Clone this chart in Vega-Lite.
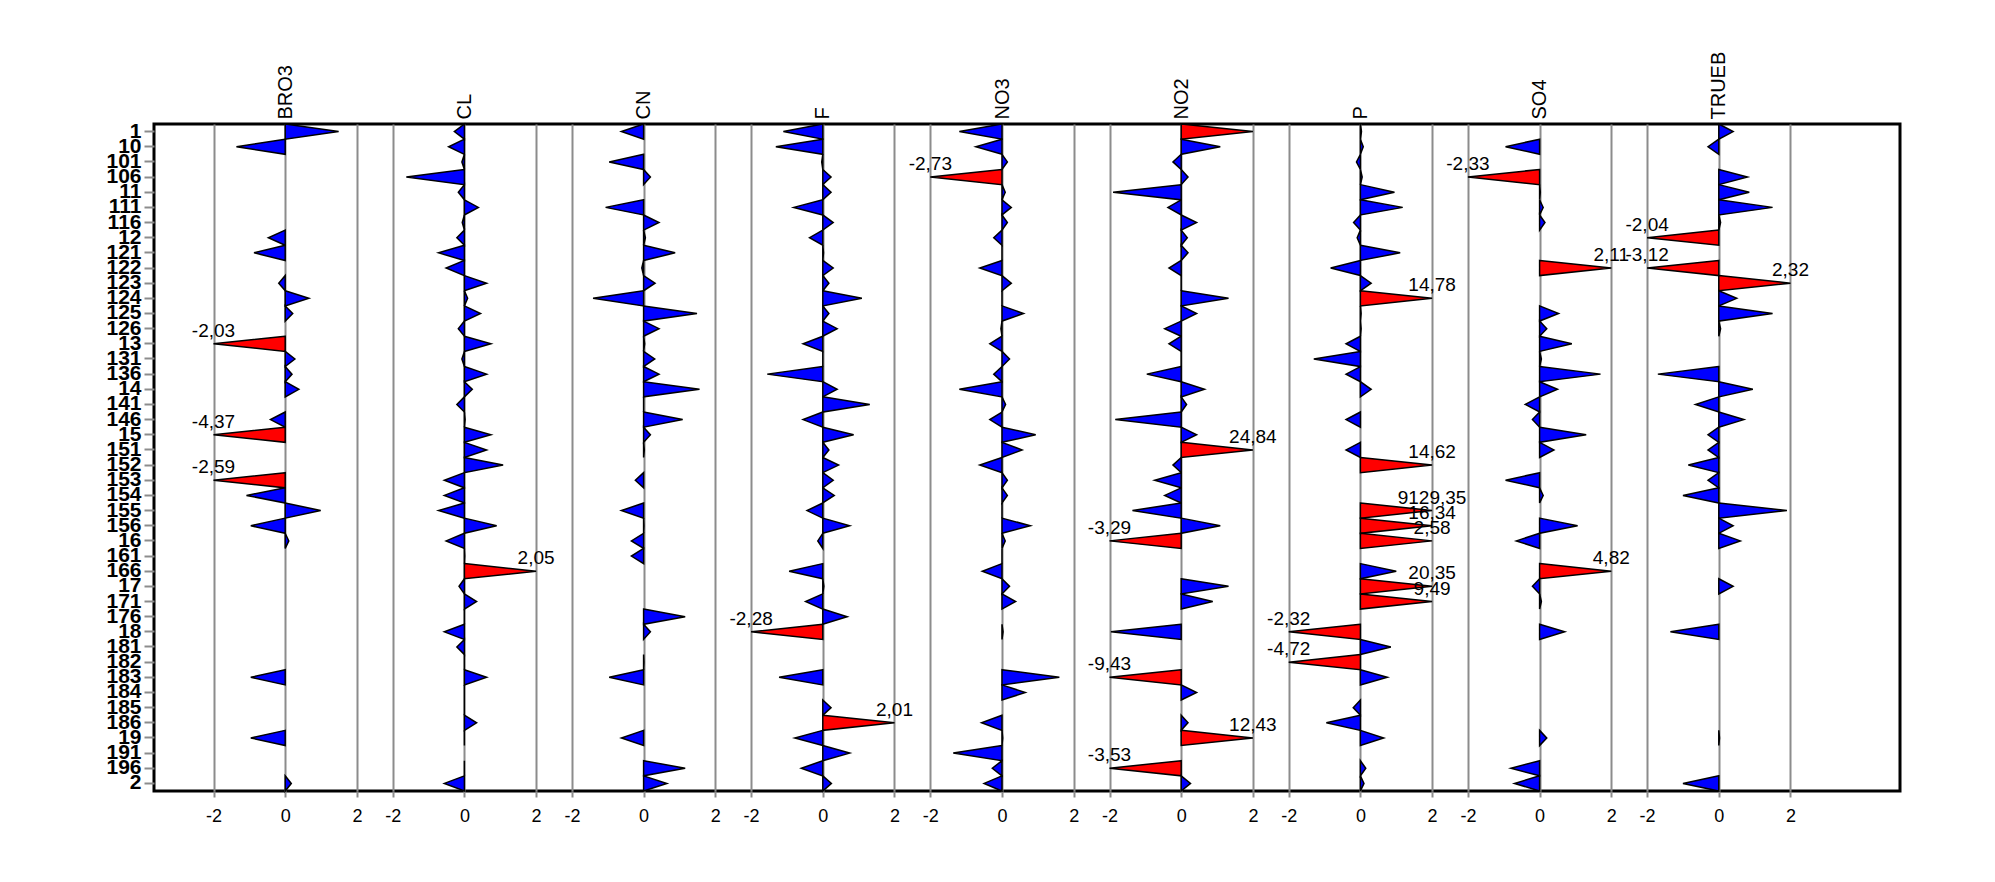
{
 "$schema": "https://vega.github.io/schema/vega-lite/v6.json",
 "background": "white",
 "padding": {"left": 104, "top": 49, "right": 0, "bottom": 0},
 "bounds": "flush",
 "spacing": 0,
 "config": {"font": "Liberation Sans", "locale": {"number": {"decimal": ",", "thousands": ".", "grouping": [3], "currency": ["", ""], "minus": "-"}}},
 "datasets": {"d": [
  {"p":"BRO3","s":"1","v":1.49},{"p":"BRO3","s":"10","v":-1.36},{"p":"BRO3","s":"12","v":-0.47},{"p":"BRO3","s":"121","v":-0.87},{"p":"BRO3","s":"123","v":-0.18},{"p":"BRO3","s":"124","v":0.66},{"p":"BRO3","s":"125","v":0.21},{"p":"BRO3","s":"13","v":-2.03},{"p":"BRO3","s":"131","v":0.27},{"p":"BRO3","s":"136","v":0.19},{"p":"BRO3","s":"14","v":0.38},{"p":"BRO3","s":"146","v":-0.41},{"p":"BRO3","s":"15","v":-4.37},{"p":"BRO3","s":"153","v":-2.59},{"p":"BRO3","s":"154","v":-1.08},{"p":"BRO3","s":"155","v":0.99},{"p":"BRO3","s":"156","v":-0.96},{"p":"BRO3","s":"16","v":0.10},{"p":"BRO3","s":"183","v":-0.96},{"p":"BRO3","s":"19","v":-0.96},{"p":"BRO3","s":"2","v":0.17},
  {"p":"CL","s":"1","v":-0.28},{"p":"CL","s":"10","v":-0.44},{"p":"CL","s":"101","v":-0.07},{"p":"CL","s":"106","v":-1.62},{"p":"CL","s":"11","v":-0.17},{"p":"CL","s":"111","v":0.39},{"p":"CL","s":"116","v":-0.06},{"p":"CL","s":"12","v":-0.21},{"p":"CL","s":"121","v":-0.72},{"p":"CL","s":"122","v":-0.51},{"p":"CL","s":"123","v":0.62},{"p":"CL","s":"124","v":0.09},{"p":"CL","s":"125","v":0.45},{"p":"CL","s":"126","v":-0.17},{"p":"CL","s":"13","v":0.74},{"p":"CL","s":"131","v":-0.07},{"p":"CL","s":"136","v":0.62},{"p":"CL","s":"14","v":0.22},{"p":"CL","s":"141","v":-0.21},{"p":"CL","s":"146","v":0.02},{"p":"CL","s":"15","v":0.74},{"p":"CL","s":"151","v":0.62},{"p":"CL","s":"152","v":1.08},{"p":"CL","s":"153","v":-0.56},{"p":"CL","s":"154","v":-0.56},{"p":"CL","s":"155","v":-0.72},{"p":"CL","s":"156","v":0.90},{"p":"CL","s":"16","v":-0.51},{"p":"CL","s":"161","v":0.01},{"p":"CL","s":"166","v":2.05},{"p":"CL","s":"17","v":-0.15},{"p":"CL","s":"171","v":0.34},{"p":"CL","s":"176","v":0},{"p":"CL","s":"18","v":-0.56},{"p":"CL","s":"181","v":-0.21},{"p":"CL","s":"182","v":0},{"p":"CL","s":"183","v":0.62},{"p":"CL","s":"184","v":0},{"p":"CL","s":"185","v":0},{"p":"CL","s":"186","v":0.34},{"p":"CL","s":"19","v":0},{"p":"CL","s":"196","v":0},{"p":"CL","s":"2","v":-0.56},
  {"p":"CN","s":"1","v":-0.62},{"p":"CN","s":"101","v":-0.96},{"p":"CN","s":"106","v":0.19},{"p":"CN","s":"111","v":-1.06},{"p":"CN","s":"116","v":0.43},{"p":"CN","s":"12","v":0.05},{"p":"CN","s":"121","v":0.88},{"p":"CN","s":"122","v":-0.05},{"p":"CN","s":"123","v":0.32},{"p":"CN","s":"124","v":-1.41},{"p":"CN","s":"125","v":1.49},{"p":"CN","s":"126","v":0.43},{"p":"CN","s":"13","v":0.03},{"p":"CN","s":"131","v":0.31},{"p":"CN","s":"136","v":0.43},{"p":"CN","s":"14","v":1.56},{"p":"CN","s":"141","v":0},{"p":"CN","s":"146","v":1.09},{"p":"CN","s":"15","v":0.19},{"p":"CN","s":"151","v":0.02},{"p":"CN","s":"153","v":-0.23},{"p":"CN","s":"155","v":-0.62},{"p":"CN","s":"156","v":0.01},{"p":"CN","s":"16","v":-0.34},{"p":"CN","s":"161","v":-0.34},{"p":"CN","s":"176","v":1.16},{"p":"CN","s":"18","v":0.19},{"p":"CN","s":"182","v":0.01},{"p":"CN","s":"183","v":-0.96},{"p":"CN","s":"19","v":-0.62},{"p":"CN","s":"196","v":1.16},{"p":"CN","s":"2","v":0.65},
  {"p":"F","s":"1","v":-1.10},{"p":"F","s":"10","v":-1.31},{"p":"F","s":"101","v":-0.03},{"p":"F","s":"106","v":0.23},{"p":"F","s":"11","v":0.23},{"p":"F","s":"111","v":-0.81},{"p":"F","s":"116","v":0.29},{"p":"F","s":"12","v":-0.37},{"p":"F","s":"121","v":0.02},{"p":"F","s":"122","v":0.29},{"p":"F","s":"123","v":0.17},{"p":"F","s":"124","v":1.09},{"p":"F","s":"125","v":0.17},{"p":"F","s":"126","v":0.40},{"p":"F","s":"13","v":-0.55},{"p":"F","s":"131","v":0},{"p":"F","s":"136","v":-1.55},{"p":"F","s":"14","v":0.40},{"p":"F","s":"141","v":1.31},{"p":"F","s":"146","v":-0.55},{"p":"F","s":"15","v":0.86},{"p":"F","s":"151","v":0.17},{"p":"F","s":"152","v":0.44},{"p":"F","s":"153","v":0.29},{"p":"F","s":"154","v":0.32},{"p":"F","s":"155","v":-0.44},{"p":"F","s":"156","v":0.75},{"p":"F","s":"16","v":-0.14},{"p":"F","s":"166","v":-0.94},{"p":"F","s":"17","v":0.03},{"p":"F","s":"171","v":-0.48},{"p":"F","s":"176","v":0.68},{"p":"F","s":"18","v":-2.28},{"p":"F","s":"183","v":-1.22},{"p":"F","s":"185","v":0.23},{"p":"F","s":"186","v":2.01},{"p":"F","s":"19","v":-0.78},{"p":"F","s":"191","v":0.75},{"p":"F","s":"196","v":-0.60},{"p":"F","s":"2","v":0.24},
  {"p":"NO3","s":"1","v":-1.19},{"p":"NO3","s":"10","v":-0.73},{"p":"NO3","s":"101","v":0.15},{"p":"NO3","s":"106","v":-2.73},{"p":"NO3","s":"11","v":0.09},{"p":"NO3","s":"111","v":0.26},{"p":"NO3","s":"116","v":0.15},{"p":"NO3","s":"12","v":-0.23},{"p":"NO3","s":"121","v":0},{"p":"NO3","s":"122","v":-0.62},{"p":"NO3","s":"123","v":0.26},{"p":"NO3","s":"124","v":0},{"p":"NO3","s":"125","v":0.60},{"p":"NO3","s":"126","v":-0.03},{"p":"NO3","s":"13","v":-0.34},{"p":"NO3","s":"131","v":0.21},{"p":"NO3","s":"136","v":-0.23},{"p":"NO3","s":"14","v":-1.19},{"p":"NO3","s":"141","v":0.10},{"p":"NO3","s":"146","v":-0.34},{"p":"NO3","s":"15","v":0.94},{"p":"NO3","s":"151","v":0.56},{"p":"NO3","s":"152","v":-0.62},{"p":"NO3","s":"153","v":0.15},{"p":"NO3","s":"154","v":0.15},{"p":"NO3","s":"155","v":0},{"p":"NO3","s":"156","v":0.79},{"p":"NO3","s":"16","v":0.09},{"p":"NO3","s":"161","v":0},{"p":"NO3","s":"166","v":-0.55},{"p":"NO3","s":"17","v":0.21},{"p":"NO3","s":"171","v":0.38},{"p":"NO3","s":"18","v":0.03},{"p":"NO3","s":"183","v":1.60},{"p":"NO3","s":"184","v":0.65},{"p":"NO3","s":"186","v":-0.57},{"p":"NO3","s":"19","v":0.02},{"p":"NO3","s":"191","v":-1.36},{"p":"NO3","s":"196","v":-0.27},{"p":"NO3","s":"2","v":-0.50},
  {"p":"NO2","s":"1","v":3.12},{"p":"NO2","s":"10","v":1.09},{"p":"NO2","s":"101","v":-0.23},{"p":"NO2","s":"106","v":0.19},{"p":"NO2","s":"11","v":-1.90},{"p":"NO2","s":"111","v":-0.37},{"p":"NO2","s":"116","v":0.43},{"p":"NO2","s":"12","v":0.17},{"p":"NO2","s":"121","v":0.19},{"p":"NO2","s":"122","v":-0.34},{"p":"NO2","s":"123","v":0},{"p":"NO2","s":"124","v":1.32},{"p":"NO2","s":"125","v":0.43},{"p":"NO2","s":"126","v":-0.46},{"p":"NO2","s":"13","v":-0.34},{"p":"NO2","s":"131","v":0},{"p":"NO2","s":"136","v":-0.96},{"p":"NO2","s":"14","v":0.65},{"p":"NO2","s":"141","v":0.15},{"p":"NO2","s":"146","v":-1.84},{"p":"NO2","s":"15","v":0.43},{"p":"NO2","s":"151","v":24.84},{"p":"NO2","s":"152","v":-0.23},{"p":"NO2","s":"153","v":-0.74},{"p":"NO2","s":"154","v":-0.46},{"p":"NO2","s":"155","v":-1.36},{"p":"NO2","s":"156","v":1.09},{"p":"NO2","s":"16","v":-3.29},{"p":"NO2","s":"17","v":1.32},{"p":"NO2","s":"171","v":0.88},{"p":"NO2","s":"18","v":-1.96},{"p":"NO2","s":"183","v":-9.43},{"p":"NO2","s":"184","v":0.43},{"p":"NO2","s":"186","v":0.19},{"p":"NO2","s":"19","v":12.43},{"p":"NO2","s":"196","v":-3.53},{"p":"NO2","s":"2","v":0.26},
  {"p":"P","s":"1","v":0.03},{"p":"P","s":"10","v":0.08},{"p":"P","s":"101","v":-0.11},{"p":"P","s":"106","v":0.05},{"p":"P","s":"11","v":0.95},{"p":"P","s":"111","v":1.18},{"p":"P","s":"116","v":-0.19},{"p":"P","s":"12","v":-0.09},{"p":"P","s":"121","v":1.11},{"p":"P","s":"122","v":-0.83},{"p":"P","s":"123","v":0.3},{"p":"P","s":"124","v":14.78},{"p":"P","s":"125","v":0.02},{"p":"P","s":"126","v":0.02},{"p":"P","s":"13","v":-0.4},{"p":"P","s":"131","v":-1.3},{"p":"P","s":"136","v":-0.4},{"p":"P","s":"14","v":0.3},{"p":"P","s":"146","v":-0.4},{"p":"P","s":"151","v":-0.4},{"p":"P","s":"152","v":14.62},{"p":"P","s":"155","v":9129.35},{"p":"P","s":"156","v":16.34},{"p":"P","s":"16","v":2.58},{"p":"P","s":"166","v":1.0},{"p":"P","s":"17","v":20.35},{"p":"P","s":"171","v":9.49},{"p":"P","s":"18","v":-2.32},{"p":"P","s":"181","v":0.85},{"p":"P","s":"182","v":-4.72},{"p":"P","s":"183","v":0.75},{"p":"P","s":"185","v":-0.2},{"p":"P","s":"186","v":-0.95},{"p":"P","s":"19","v":0.65},{"p":"P","s":"196","v":0.15},{"p":"P","s":"2","v":0.1},
  {"p":"SO4","s":"10","v":-0.95},{"p":"SO4","s":"106","v":-2.33},{"p":"SO4","s":"11","v":0.02},{"p":"SO4","s":"111","v":0.1},{"p":"SO4","s":"116","v":0.15},{"p":"SO4","s":"122","v":2.11},{"p":"SO4","s":"125","v":0.53},{"p":"SO4","s":"126","v":0.2},{"p":"SO4","s":"13","v":0.9},{"p":"SO4","s":"131","v":0.05},{"p":"SO4","s":"136","v":1.7},{"p":"SO4","s":"14","v":0.5},{"p":"SO4","s":"141","v":-0.4},{"p":"SO4","s":"146","v":-0.2},{"p":"SO4","s":"15","v":1.3},{"p":"SO4","s":"151","v":0.4},{"p":"SO4","s":"153","v":-0.95},{"p":"SO4","s":"154","v":0.1},{"p":"SO4","s":"156","v":1.06},{"p":"SO4","s":"16","v":-0.65},{"p":"SO4","s":"166","v":4.82},{"p":"SO4","s":"17","v":-0.2},{"p":"SO4","s":"171","v":0.05},{"p":"SO4","s":"18","v":0.7},{"p":"SO4","s":"19","v":0.2},{"p":"SO4","s":"196","v":-0.8},{"p":"SO4","s":"2","v":-0.7},
  {"p":"TRUEB","s":"1","v":0.4},{"p":"TRUEB","s":"10","v":-0.3},{"p":"TRUEB","s":"106","v":0.8},{"p":"TRUEB","s":"11","v":0.85},{"p":"TRUEB","s":"111","v":1.5},{"p":"TRUEB","s":"116","v":0.05},{"p":"TRUEB","s":"12","v":-2.04},{"p":"TRUEB","s":"122","v":-3.12},{"p":"TRUEB","s":"123","v":2.32},{"p":"TRUEB","s":"124","v":0.5},{"p":"TRUEB","s":"125","v":1.5},{"p":"TRUEB","s":"126","v":0.05},{"p":"TRUEB","s":"136","v":-1.7},{"p":"TRUEB","s":"14","v":0.95},{"p":"TRUEB","s":"141","v":-0.65},{"p":"TRUEB","s":"146","v":0.7},{"p":"TRUEB","s":"15","v":-0.3},{"p":"TRUEB","s":"151","v":-0.3},{"p":"TRUEB","s":"152","v":-0.85},{"p":"TRUEB","s":"153","v":-0.3},{"p":"TRUEB","s":"154","v":-1.0},{"p":"TRUEB","s":"155","v":1.9},{"p":"TRUEB","s":"156","v":0.4},{"p":"TRUEB","s":"16","v":0.6},{"p":"TRUEB","s":"17","v":0.4},{"p":"TRUEB","s":"18","v":-1.35},{"p":"TRUEB","s":"19","v":0.02},{"p":"TRUEB","s":"2","v":-1.0}
 ]},
 "data": {"name": "d"},
 "resolve": {"scale": {"x": "independent", "y": "independent"}},
 "hconcat": [
  {"width": 223, "height": 667, "view": {"stroke": "black", "strokeWidth": 3, "strokeDash": [223, 667, 890]},
   "transform": [{"filter": "datum.p == 'BRO3'"}],
   "layer": [
    {"transform": [{"stack": "v", "groupby": ["p", "s"], "as": ["a0", "a1"]}, {"stack": "v", "groupby": ["p", "s"], "as": ["b0", "b1"]}, {"fold": ["a0", "a1", "b0"], "as": ["k", "xv"]}],
     "mark": {"type": "area", "orient": "horizontal", "stroke": "black", "strokeWidth": 1.5, "strokeJoin": "miter"},
     "encoding": {
      "y": {"field": "s", "type": "nominal", "scale": {"domain": ["1","10","101","106","11","111","116","12","121","122","123","124","125","126","13","131","136","14","141","146","15","151","152","153","154","155","156","16","161","166","17","171","176","18","181","182","183","184","185","186","19","191","196","2"], "paddingInner": 0, "paddingOuter": 0},
        "axis": {"orient": "left", "domain": false, "grid": false, "tickColor": "#8c8c8c", "tickWidth": 2, "tickSize": 10, "labelFontSize": 21, "labelFontWeight": "bold", "labelColor": "black", "labelPadding": 3, "title": null, "labelOverlap": false, "labelBound": false}},
      "yOffset": {"field": "k", "type": "nominal", "scale": {"type": "point", "domain": ["a0", "a1", "b0"], "range": [0, 15.159], "padding": 0}},
      "x": {"field": "xv", "type": "quantitative", "stack": null, "scale": {"domain": [-2, 2], "range": [59.5, 202.9], "clamp": true, "nice": false, "zero": false},
        "axis": {"orient": "bottom", "values": [-2, 0, 2], "grid": true, "gridColor": "#8c8c8c", "gridWidth": 2, "domain": false, "tickColor": "#8c8c8c", "tickWidth": 2, "tickSize": 6, "labelFontSize": 18, "labelColor": "black", "labelPadding": 10, "title": null, "labelFlush": false, "labelOverlap": false}},
      "detail": {"field": "s", "type": "nominal"},
      "color": {"condition": {"test": "abs(datum.v) > 2", "value": "#ff0000"}, "value": "#0000ff"}
     }},
    {"transform": [{"filter": "abs(datum.v) > 2"}],
     "mark": {"type": "text", "baseline": "bottom", "align": "center", "dy": -3, "fontSize": 19, "color": "black"},
     "encoding": {
      "y": {"field": "s", "type": "nominal"},
      "x": {"field": "v", "type": "quantitative", "axis": {"orient": "top", "values": [0], "labelExpr": "'BRO3'", "labelAngle": -90, "labelAlign": "left", "labelBaseline": "middle", "ticks": false, "domain": false, "grid": false, "title": null, "labelFontSize": 20, "labelPadding": 5, "labelColor": "black"}},
      "text": {"field": "v", "type": "quantitative", "format": ".2f"}
     }}
   ],
   "resolve": {"axis": {"x": "independent"}}},
  {"width": 179, "height": 667, "view": {"stroke": "black", "strokeWidth": 3, "strokeDash": [179, 667]},
   "transform": [{"filter": "datum.p == 'CL'"}],
   "layer": [
    {"transform": [{"stack": "v", "groupby": ["p", "s"], "as": ["a0", "a1"]}, {"stack": "v", "groupby": ["p", "s"], "as": ["b0", "b1"]}, {"fold": ["a0", "a1", "b0"], "as": ["k", "xv"]}],
     "mark": {"type": "area", "orient": "horizontal", "stroke": "black", "strokeWidth": 1.5, "strokeJoin": "miter"},
     "encoding": {
      "y": {"field": "s", "type": "nominal", "scale": {"domain": ["1","10","101","106","11","111","116","12","121","122","123","124","125","126","13","131","136","14","141","146","15","151","152","153","154","155","156","16","161","166","17","171","176","18","181","182","183","184","185","186","19","191","196","2"], "paddingInner": 0, "paddingOuter": 0}, "axis": null},
      "yOffset": {"field": "k", "type": "nominal", "scale": {"type": "point", "domain": ["a0", "a1", "b0"], "range": [0, 15.159], "padding": 0}},
      "x": {"field": "xv", "type": "quantitative", "stack": null, "scale": {"domain": [-2, 2], "range": [15.72, 159.08], "clamp": true, "nice": false, "zero": false},
        "axis": {"orient": "bottom", "values": [-2, 0, 2], "grid": true, "gridColor": "#8c8c8c", "gridWidth": 2, "domain": false, "tickColor": "#8c8c8c", "tickWidth": 2, "tickSize": 6, "labelFontSize": 18, "labelColor": "black", "labelPadding": 10, "title": null, "labelFlush": false, "labelOverlap": false}},
      "detail": {"field": "s", "type": "nominal"},
      "color": {"condition": {"test": "abs(datum.v) > 2", "value": "#ff0000"}, "value": "#0000ff"}
     }},
    {"transform": [{"filter": "abs(datum.v) > 2"}],
     "mark": {"type": "text", "baseline": "bottom", "align": "center", "dy": -3, "fontSize": 19, "color": "black"},
     "encoding": {
      "y": {"field": "s", "type": "nominal"},
      "x": {"field": "v", "type": "quantitative", "axis": {"orient": "top", "values": [0], "labelExpr": "'CL'", "labelAngle": -90, "labelAlign": "left", "labelBaseline": "middle", "ticks": false, "domain": false, "grid": false, "title": null, "labelFontSize": 20, "labelPadding": 5, "labelColor": "black"}},
      "text": {"field": "v", "type": "quantitative", "format": ".2f"}
     }}
   ],
   "resolve": {"axis": {"x": "independent"}}},
  {"width": 179, "height": 667, "view": {"stroke": "black", "strokeWidth": 3, "strokeDash": [179, 667]},
   "transform": [{"filter": "datum.p == 'CN'"}],
   "layer": [
    {"transform": [{"stack": "v", "groupby": ["p", "s"], "as": ["a0", "a1"]}, {"stack": "v", "groupby": ["p", "s"], "as": ["b0", "b1"]}, {"fold": ["a0", "a1", "b0"], "as": ["k", "xv"]}],
     "mark": {"type": "area", "orient": "horizontal", "stroke": "black", "strokeWidth": 1.5, "strokeJoin": "miter"},
     "encoding": {
      "y": {"field": "s", "type": "nominal", "scale": {"domain": ["1","10","101","106","11","111","116","12","121","122","123","124","125","126","13","131","136","14","141","146","15","151","152","153","154","155","156","16","161","166","17","171","176","18","181","182","183","184","185","186","19","191","196","2"], "paddingInner": 0, "paddingOuter": 0}, "axis": null},
      "yOffset": {"field": "k", "type": "nominal", "scale": {"type": "point", "domain": ["a0", "a1", "b0"], "range": [0, 15.159], "padding": 0}},
      "x": {"field": "xv", "type": "quantitative", "stack": null, "scale": {"domain": [-2, 2], "range": [15.92, 159.28], "clamp": true, "nice": false, "zero": false},
        "axis": {"orient": "bottom", "values": [-2, 0, 2], "grid": true, "gridColor": "#8c8c8c", "gridWidth": 2, "domain": false, "tickColor": "#8c8c8c", "tickWidth": 2, "tickSize": 6, "labelFontSize": 18, "labelColor": "black", "labelPadding": 10, "title": null, "labelFlush": false, "labelOverlap": false}},
      "detail": {"field": "s", "type": "nominal"},
      "color": {"condition": {"test": "abs(datum.v) > 2", "value": "#ff0000"}, "value": "#0000ff"}
     }},
    {"transform": [{"filter": "abs(datum.v) > 2"}],
     "mark": {"type": "text", "baseline": "bottom", "align": "center", "dy": -3, "fontSize": 19, "color": "black"},
     "encoding": {
      "y": {"field": "s", "type": "nominal"},
      "x": {"field": "v", "type": "quantitative", "axis": {"orient": "top", "values": [0], "labelExpr": "'CN'", "labelAngle": -90, "labelAlign": "left", "labelBaseline": "middle", "ticks": false, "domain": false, "grid": false, "title": null, "labelFontSize": 20, "labelPadding": 5, "labelColor": "black"}},
      "text": {"field": "v", "type": "quantitative", "format": ".2f"}
     }}
   ],
   "resolve": {"axis": {"x": "independent"}}},
  {"width": 179, "height": 667, "view": {"stroke": "black", "strokeWidth": 3, "strokeDash": [179, 667]},
   "transform": [{"filter": "datum.p == 'F'"}],
   "layer": [
    {"transform": [{"stack": "v", "groupby": ["p", "s"], "as": ["a0", "a1"]}, {"stack": "v", "groupby": ["p", "s"], "as": ["b0", "b1"]}, {"fold": ["a0", "a1", "b0"], "as": ["k", "xv"]}],
     "mark": {"type": "area", "orient": "horizontal", "stroke": "black", "strokeWidth": 1.5, "strokeJoin": "miter"},
     "encoding": {
      "y": {"field": "s", "type": "nominal", "scale": {"domain": ["1","10","101","106","11","111","116","12","121","122","123","124","125","126","13","131","136","14","141","146","15","151","152","153","154","155","156","16","161","166","17","171","176","18","181","182","183","184","185","186","19","191","196","2"], "paddingInner": 0, "paddingOuter": 0}, "axis": null},
      "yOffset": {"field": "k", "type": "nominal", "scale": {"type": "point", "domain": ["a0", "a1", "b0"], "range": [0, 15.159], "padding": 0}},
      "x": {"field": "xv", "type": "quantitative", "stack": null, "scale": {"domain": [-2, 2], "range": [16.12, 159.48], "clamp": true, "nice": false, "zero": false},
        "axis": {"orient": "bottom", "values": [-2, 0, 2], "grid": true, "gridColor": "#8c8c8c", "gridWidth": 2, "domain": false, "tickColor": "#8c8c8c", "tickWidth": 2, "tickSize": 6, "labelFontSize": 18, "labelColor": "black", "labelPadding": 10, "title": null, "labelFlush": false, "labelOverlap": false}},
      "detail": {"field": "s", "type": "nominal"},
      "color": {"condition": {"test": "abs(datum.v) > 2", "value": "#ff0000"}, "value": "#0000ff"}
     }},
    {"transform": [{"filter": "abs(datum.v) > 2"}],
     "mark": {"type": "text", "baseline": "bottom", "align": "center", "dy": -3, "fontSize": 19, "color": "black"},
     "encoding": {
      "y": {"field": "s", "type": "nominal"},
      "x": {"field": "v", "type": "quantitative", "axis": {"orient": "top", "values": [0], "labelExpr": "'F'", "labelAngle": -90, "labelAlign": "left", "labelBaseline": "middle", "ticks": false, "domain": false, "grid": false, "title": null, "labelFontSize": 20, "labelPadding": 5, "labelColor": "black"}},
      "text": {"field": "v", "type": "quantitative", "format": ".2f"}
     }}
   ],
   "resolve": {"axis": {"x": "independent"}}},
  {"width": 179, "height": 667, "view": {"stroke": "black", "strokeWidth": 3, "strokeDash": [179, 667]},
   "transform": [{"filter": "datum.p == 'NO3'"}],
   "layer": [
    {"transform": [{"stack": "v", "groupby": ["p", "s"], "as": ["a0", "a1"]}, {"stack": "v", "groupby": ["p", "s"], "as": ["b0", "b1"]}, {"fold": ["a0", "a1", "b0"], "as": ["k", "xv"]}],
     "mark": {"type": "area", "orient": "horizontal", "stroke": "black", "strokeWidth": 1.5, "strokeJoin": "miter"},
     "encoding": {
      "y": {"field": "s", "type": "nominal", "scale": {"domain": ["1","10","101","106","11","111","116","12","121","122","123","124","125","126","13","131","136","14","141","146","15","151","152","153","154","155","156","16","161","166","17","171","176","18","181","182","183","184","185","186","19","191","196","2"], "paddingInner": 0, "paddingOuter": 0}, "axis": null},
      "yOffset": {"field": "k", "type": "nominal", "scale": {"type": "point", "domain": ["a0", "a1", "b0"], "range": [0, 15.159], "padding": 0}},
      "x": {"field": "xv", "type": "quantitative", "stack": null, "scale": {"domain": [-2, 2], "range": [16.32, 159.68], "clamp": true, "nice": false, "zero": false},
        "axis": {"orient": "bottom", "values": [-2, 0, 2], "grid": true, "gridColor": "#8c8c8c", "gridWidth": 2, "domain": false, "tickColor": "#8c8c8c", "tickWidth": 2, "tickSize": 6, "labelFontSize": 18, "labelColor": "black", "labelPadding": 10, "title": null, "labelFlush": false, "labelOverlap": false}},
      "detail": {"field": "s", "type": "nominal"},
      "color": {"condition": {"test": "abs(datum.v) > 2", "value": "#ff0000"}, "value": "#0000ff"}
     }},
    {"transform": [{"filter": "abs(datum.v) > 2"}],
     "mark": {"type": "text", "baseline": "bottom", "align": "center", "dy": -3, "fontSize": 19, "color": "black"},
     "encoding": {
      "y": {"field": "s", "type": "nominal"},
      "x": {"field": "v", "type": "quantitative", "axis": {"orient": "top", "values": [0], "labelExpr": "'NO3'", "labelAngle": -90, "labelAlign": "left", "labelBaseline": "middle", "ticks": false, "domain": false, "grid": false, "title": null, "labelFontSize": 20, "labelPadding": 5, "labelColor": "black"}},
      "text": {"field": "v", "type": "quantitative", "format": ".2f"}
     }}
   ],
   "resolve": {"axis": {"x": "independent"}}},
  {"width": 179, "height": 667, "view": {"stroke": "black", "strokeWidth": 3, "strokeDash": [179, 667]},
   "transform": [{"filter": "datum.p == 'NO2'"}],
   "layer": [
    {"transform": [{"stack": "v", "groupby": ["p", "s"], "as": ["a0", "a1"]}, {"stack": "v", "groupby": ["p", "s"], "as": ["b0", "b1"]}, {"fold": ["a0", "a1", "b0"], "as": ["k", "xv"]}],
     "mark": {"type": "area", "orient": "horizontal", "stroke": "black", "strokeWidth": 1.5, "strokeJoin": "miter"},
     "encoding": {
      "y": {"field": "s", "type": "nominal", "scale": {"domain": ["1","10","101","106","11","111","116","12","121","122","123","124","125","126","13","131","136","14","141","146","15","151","152","153","154","155","156","16","161","166","17","171","176","18","181","182","183","184","185","186","19","191","196","2"], "paddingInner": 0, "paddingOuter": 0}, "axis": null},
      "yOffset": {"field": "k", "type": "nominal", "scale": {"type": "point", "domain": ["a0", "a1", "b0"], "range": [0, 15.159], "padding": 0}},
      "x": {"field": "xv", "type": "quantitative", "stack": null, "scale": {"domain": [-2, 2], "range": [16.52, 159.88], "clamp": true, "nice": false, "zero": false},
        "axis": {"orient": "bottom", "values": [-2, 0, 2], "grid": true, "gridColor": "#8c8c8c", "gridWidth": 2, "domain": false, "tickColor": "#8c8c8c", "tickWidth": 2, "tickSize": 6, "labelFontSize": 18, "labelColor": "black", "labelPadding": 10, "title": null, "labelFlush": false, "labelOverlap": false}},
      "detail": {"field": "s", "type": "nominal"},
      "color": {"condition": {"test": "abs(datum.v) > 2", "value": "#ff0000"}, "value": "#0000ff"}
     }},
    {"transform": [{"filter": "abs(datum.v) > 2 && datum.s != '1'"}],
     "mark": {"type": "text", "baseline": "bottom", "align": "center", "dy": -3, "fontSize": 19, "color": "black"},
     "encoding": {
      "y": {"field": "s", "type": "nominal"},
      "x": {"field": "v", "type": "quantitative", "axis": {"orient": "top", "values": [0], "labelExpr": "'NO2'", "labelAngle": -90, "labelAlign": "left", "labelBaseline": "middle", "ticks": false, "domain": false, "grid": false, "title": null, "labelFontSize": 20, "labelPadding": 5, "labelColor": "black"}},
      "text": {"field": "v", "type": "quantitative", "format": ".2f"}
     }}
   ],
   "resolve": {"axis": {"x": "independent"}}},
  {"width": 179, "height": 667, "view": {"stroke": "black", "strokeWidth": 3, "strokeDash": [179, 667]},
   "transform": [{"filter": "datum.p == 'P'"}],
   "layer": [
    {"transform": [{"stack": "v", "groupby": ["p", "s"], "as": ["a0", "a1"]}, {"stack": "v", "groupby": ["p", "s"], "as": ["b0", "b1"]}, {"fold": ["a0", "a1", "b0"], "as": ["k", "xv"]}],
     "mark": {"type": "area", "orient": "horizontal", "stroke": "black", "strokeWidth": 1.5, "strokeJoin": "miter"},
     "encoding": {
      "y": {"field": "s", "type": "nominal", "scale": {"domain": ["1","10","101","106","11","111","116","12","121","122","123","124","125","126","13","131","136","14","141","146","15","151","152","153","154","155","156","16","161","166","17","171","176","18","181","182","183","184","185","186","19","191","196","2"], "paddingInner": 0, "paddingOuter": 0}, "axis": null},
      "yOffset": {"field": "k", "type": "nominal", "scale": {"type": "point", "domain": ["a0", "a1", "b0"], "range": [0, 15.159], "padding": 0}},
      "x": {"field": "xv", "type": "quantitative", "stack": null, "scale": {"domain": [-2, 2], "range": [16.72, 160.08], "clamp": true, "nice": false, "zero": false},
        "axis": {"orient": "bottom", "values": [-2, 0, 2], "grid": true, "gridColor": "#8c8c8c", "gridWidth": 2, "domain": false, "tickColor": "#8c8c8c", "tickWidth": 2, "tickSize": 6, "labelFontSize": 18, "labelColor": "black", "labelPadding": 10, "title": null, "labelFlush": false, "labelOverlap": false}},
      "detail": {"field": "s", "type": "nominal"},
      "color": {"condition": {"test": "abs(datum.v) > 2", "value": "#ff0000"}, "value": "#0000ff"}
     }},
    {"transform": [{"filter": "abs(datum.v) > 2"}],
     "mark": {"type": "text", "baseline": "bottom", "align": "center", "dy": -3, "fontSize": 19, "color": "black"},
     "encoding": {
      "y": {"field": "s", "type": "nominal"},
      "x": {"field": "v", "type": "quantitative", "axis": {"orient": "top", "values": [0], "labelExpr": "'P'", "labelAngle": -90, "labelAlign": "left", "labelBaseline": "middle", "ticks": false, "domain": false, "grid": false, "title": null, "labelFontSize": 20, "labelPadding": 5, "labelColor": "black"}},
      "text": {"field": "v", "type": "quantitative", "format": ".2f"}
     }}
   ],
   "resolve": {"axis": {"x": "independent"}}},
  {"width": 179, "height": 667, "view": {"stroke": "black", "strokeWidth": 3, "strokeDash": [179, 667]},
   "transform": [{"filter": "datum.p == 'SO4'"}],
   "layer": [
    {"transform": [{"stack": "v", "groupby": ["p", "s"], "as": ["a0", "a1"]}, {"stack": "v", "groupby": ["p", "s"], "as": ["b0", "b1"]}, {"fold": ["a0", "a1", "b0"], "as": ["k", "xv"]}],
     "mark": {"type": "area", "orient": "horizontal", "stroke": "black", "strokeWidth": 1.5, "strokeJoin": "miter"},
     "encoding": {
      "y": {"field": "s", "type": "nominal", "scale": {"domain": ["1","10","101","106","11","111","116","12","121","122","123","124","125","126","13","131","136","14","141","146","15","151","152","153","154","155","156","16","161","166","17","171","176","18","181","182","183","184","185","186","19","191","196","2"], "paddingInner": 0, "paddingOuter": 0}, "axis": null},
      "yOffset": {"field": "k", "type": "nominal", "scale": {"type": "point", "domain": ["a0", "a1", "b0"], "range": [0, 15.159], "padding": 0}},
      "x": {"field": "xv", "type": "quantitative", "stack": null, "scale": {"domain": [-2, 2], "range": [16.92, 160.28], "clamp": true, "nice": false, "zero": false},
        "axis": {"orient": "bottom", "values": [-2, 0, 2], "grid": true, "gridColor": "#8c8c8c", "gridWidth": 2, "domain": false, "tickColor": "#8c8c8c", "tickWidth": 2, "tickSize": 6, "labelFontSize": 18, "labelColor": "black", "labelPadding": 10, "title": null, "labelFlush": false, "labelOverlap": false}},
      "detail": {"field": "s", "type": "nominal"},
      "color": {"condition": {"test": "abs(datum.v) > 2", "value": "#ff0000"}, "value": "#0000ff"}
     }},
    {"transform": [{"filter": "abs(datum.v) > 2"}],
     "mark": {"type": "text", "baseline": "bottom", "align": "center", "dy": -3, "fontSize": 19, "color": "black"},
     "encoding": {
      "y": {"field": "s", "type": "nominal"},
      "x": {"field": "v", "type": "quantitative", "axis": {"orient": "top", "values": [0], "labelExpr": "'SO4'", "labelAngle": -90, "labelAlign": "left", "labelBaseline": "middle", "ticks": false, "domain": false, "grid": false, "title": null, "labelFontSize": 20, "labelPadding": 5, "labelColor": "black"}},
      "text": {"field": "v", "type": "quantitative", "format": ".2f"}
     }}
   ],
   "resolve": {"axis": {"x": "independent"}}},
  {"width": 270, "height": 667, "view": {"stroke": "black", "strokeWidth": 3, "strokeDash": [1207, 667]},
   "transform": [{"filter": "datum.p == 'TRUEB'"}],
   "layer": [
    {"transform": [{"stack": "v", "groupby": ["p", "s"], "as": ["a0", "a1"]}, {"stack": "v", "groupby": ["p", "s"], "as": ["b0", "b1"]}, {"fold": ["a0", "a1", "b0"], "as": ["k", "xv"]}],
     "mark": {"type": "area", "orient": "horizontal", "stroke": "black", "strokeWidth": 1.5, "strokeJoin": "miter"},
     "encoding": {
      "y": {"field": "s", "type": "nominal", "scale": {"domain": ["1","10","101","106","11","111","116","12","121","122","123","124","125","126","13","131","136","14","141","146","15","151","152","153","154","155","156","16","161","166","17","171","176","18","181","182","183","184","185","186","19","191","196","2"], "paddingInner": 0, "paddingOuter": 0}, "axis": null},
      "yOffset": {"field": "k", "type": "nominal", "scale": {"type": "point", "domain": ["a0", "a1", "b0"], "range": [0, 15.159], "padding": 0}},
      "x": {"field": "xv", "type": "quantitative", "stack": null, "scale": {"domain": [-2, 2], "range": [17.12, 160.48], "clamp": true, "nice": false, "zero": false},
        "axis": {"orient": "bottom", "values": [-2, 0, 2], "grid": true, "gridColor": "#8c8c8c", "gridWidth": 2, "domain": false, "tickColor": "#8c8c8c", "tickWidth": 2, "tickSize": 6, "labelFontSize": 18, "labelColor": "black", "labelPadding": 10, "title": null, "labelFlush": false, "labelOverlap": false}},
      "detail": {"field": "s", "type": "nominal"},
      "color": {"condition": {"test": "abs(datum.v) > 2", "value": "#ff0000"}, "value": "#0000ff"}
     }},
    {"transform": [{"filter": "abs(datum.v) > 2"}],
     "mark": {"type": "text", "baseline": "bottom", "align": "center", "dy": -3, "fontSize": 19, "color": "black"},
     "encoding": {
      "y": {"field": "s", "type": "nominal"},
      "x": {"field": "v", "type": "quantitative", "axis": {"orient": "top", "values": [0], "labelExpr": "'TRUEB'", "labelAngle": -90, "labelAlign": "left", "labelBaseline": "middle", "ticks": false, "domain": false, "grid": false, "title": null, "labelFontSize": 20, "labelPadding": 5, "labelColor": "black"}},
      "text": {"field": "v", "type": "quantitative", "format": ".2f"}
     }}
   ],
   "resolve": {"axis": {"x": "independent"}}}
 ]
}
